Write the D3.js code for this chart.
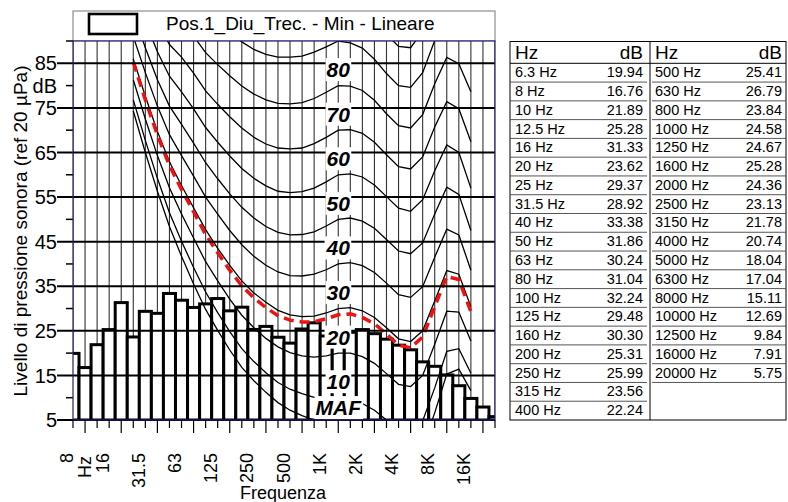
<!DOCTYPE html>
<html>
<head>
<meta charset="utf-8">
<script src="https://cdn.jsdelivr.net/npm/d3@7"></script>
<style>
  body { margin: 0; background: #fff; }
  svg { display: block; }
  text { font-family: "Liberation Sans", Arial, sans-serif; fill: #000; }
</style>
</head>
<body>
<svg id="chart" width="788" height="502"></svg>
<script>
// Third-octave bands (Hz) and measured minimum levels (dB)
const bands = ["6.3","8","10","12.5","16","20","25","31.5","40","50","63","80","100","125","160","200","250","315","400","500","630","800","1000","1250","1600","2000","2500","3150","4000","5000","6300","8000","10000","12500","16000","20000"];
const levels = [19.94,16.76,21.89,25.28,31.33,23.62,29.37,28.92,33.38,31.86,30.24,31.04,32.24,29.48,30.30,25.31,25.99,23.56,22.24,25.41,26.79,23.84,24.58,24.67,25.28,24.36,23.13,21.78,20.74,18.04,17.04,15.11,12.69,9.84,7.91,5.75];

// Equal-loudness contours, 20 Hz .. 12.5 kHz (dB)
const contourBands = ["20","25","31.5","40","50","63","80","100","125","160","200","250","315","400","500","630","800","1000","1250","1600","2000","2500","3150","4000","5000","6300","8000","10000","12500"];
const phonMAF = [74.3,65.0,56.3,48.4,41.7,35.5,29.8,25.1,20.7,16.8,13.8,11.2,8.9,7.2,6.0,5.0,4.4,4.2,3.8,2.6,1.0,-1.2,-3.6,-3.9,-1.1,6.6,15.3,16.4,11.6];
const phon10 = [76.8,67.7,59.2,51.5,45.1,39.2,33.7,29.1,24.8,21.0,18.1,15.6,13.4,11.9,10.9,10.1,9.9,10.0,9.8,8.7,7.2,5.0,2.6,2.2,4.8,12.2,20.4,21.0,15.5];
const phon20 = [81.3,72.5,64.3,57.1,51.2,45.8,40.5,36.2,32.1,28.5,25.7,23.3,21.4,20.1,19.4,19.1,19.4,20.0,20.0,19.2,17.7,15.4,13.0,12.5,15.0,22.0,29.4,29.2,22.7];
const phon30 = [86.0,77.6,69.7,62.9,57.6,52.6,47.7,43.5,39.7,36.2,33.5,31.4,29.6,28.6,28.2,28.3,29.0,30.0,30.2,29.5,28.0,25.7,23.2,22.6,25.0,31.7,38.5,37.7,30.4];
const phon40 = [91.0,82.9,75.4,69.0,64.3,59.7,55.0,51.2,47.5,44.3,41.7,39.7,38.2,37.4,37.3,37.7,38.7,40.0,40.3,39.6,38.1,35.7,33.1,32.5,34.9,41.5,47.8,46.5,38.6];
const phon50 = [96.2,88.5,81.3,75.4,71.3,67.1,62.7,59.1,55.7,52.7,50.3,48.4,47.1,46.5,46.6,47.2,48.5,50.0,50.3,49.6,48.0,45.5,42.9,42.3,44.7,51.2,57.2,55.6,47.5];
const phon60 = [101.7,94.4,87.6,82.1,78.6,74.8,70.6,67.3,64.2,61.4,59.2,57.5,56.3,56.0,56.2,57.0,58.4,60.0,60.2,59.5,57.7,55.1,52.5,51.8,54.4,60.9,66.7,65.0,57.0];
const phon70 = [107.6,100.7,94.3,89.2,86.4,82.8,78.8,75.8,73.0,70.5,68.4,66.9,66.0,65.8,66.0,67.0,68.4,70.0,70.1,69.3,67.3,64.5,61.8,61.3,64.0,70.7,76.4,74.8,67.4];
const phon80 = [113.7,107.3,101.3,96.6,94.6,91.1,87.4,84.7,82.2,79.9,78.1,76.8,76.0,75.9,76.2,77.1,78.5,80.0,79.9,78.9,76.7,73.7,71.0,70.5,73.5,80.4,86.3,84.9,78.6];
const phon90 = [120.3,114.4,108.7,104.4,103.2,99.8,96.3,94.0,91.8,89.8,88.1,87.0,86.4,86.4,86.6,87.5,88.7,90.0,89.6,88.4,85.9,82.7,80.0,79.6,82.9,90.1,96.3,95.5,90.9];
const phon100 = [127.2,121.9,116.6,112.6,112.3,108.9,105.6,103.6,101.8,100.1,98.7,97.8,97.2,97.3,97.4,98.1,99.0,100.0,99.2,97.7,94.9,91.5,88.8,88.5,92.2,99.9,106.6,106.5,104.3];
const loudnessContour = [85.3,76.8,68.9,62.1,56.7,51.7,46.6,42.5,38.6,35.1,32.4,30.2,28.4,27.4,27.0,27.0,27.7,28.6,28.8,28.0,26.6,24.3,21.8,21.2,23.6,30.4,37.2,36.5,29.3];

const contours = [
  { label: "MAF", values: phonMAF },
  { label: "10", values: phon10 },
  { label: "20", values: phon20 },
  { label: "30", values: phon30 },
  { label: "40", values: phon40 },
  { label: "50", values: phon50 },
  { label: "60", values: phon60 },
  { label: "70", values: phon70 },
  { label: "80", values: phon80 },
  { label: null, values: phon90 },
  { label: null, values: phon100 }
];

// Axis ticks
const xTickBands = ["8","16","31.5","63","125","250","500","1000","2000","4000","8000","16000"];
const xTickText  = ["8","16","31.5","63","125","250","500","1K","2K","4K","8K","16K"];
const yMajor = [5,15,25,35,45,55,65,75,85];
const yMinor = [10,20,30,40,50,60,70,80,90];
const seriesName = "Pos.1_Diu_Trec. - Min - Lineare";

const svg = d3.select("#chart");
const P = { l: 73, r: 495, t: 41, b: 420 };
const navy = "#1e1e78";

const x = d3.scalePoint().domain(bands).range([P.l, P.r]);
const step = x.step();
const y = d3.scaleLinear().domain([5, 90]).range([P.b, P.t]);

svg.append("defs").append("clipPath").attr("id", "plotClip")
  .append("rect").attr("x", P.l).attr("y", P.t).attr("width", P.r - P.l).attr("height", P.b - P.t);

// Legend
const leg = svg.append("g");
leg.append("rect").attr("x", P.l).attr("y", 11).attr("width", P.r - P.l).attr("height", P.t - 11)
  .attr("fill", "#fff").attr("stroke", "#777").attr("stroke-width", 1);
leg.append("rect").attr("x", 89).attr("y", 14).attr("width", 48).attr("height", 20)
  .attr("fill", "#fff").attr("stroke", "#000").attr("stroke-width", 2.6);
leg.append("text").attr("x", 166).attr("y", 29.5).attr("font-size", 19).text(seriesName);

// Plot background
svg.append("rect").attr("x", P.l).attr("y", P.t).attr("width", P.r - P.l).attr("height", P.b - P.t).attr("fill", "#fff");

const plot = svg.append("g").attr("clip-path", "url(#plotClip)");

// Vertical grid at band centres
plot.selectAll("line.vg").data(bands).join("line")
  .attr("x1", d => x(d)).attr("x2", d => x(d)).attr("y1", P.t).attr("y2", P.b)
  .attr("stroke", "#333").attr("stroke-width", 1.1);

// Horizontal grid + major ticks
svg.selectAll("line.hg").data(yMajor).join("line")
  .attr("x1", 57).attr("x2", P.r).attr("y1", d => y(d)).attr("y2", d => y(d))
  .attr("stroke", "#000").attr("stroke-width", 2);
svg.selectAll("line.mt").data(yMinor).join("line")
  .attr("x1", 66).attr("x2", P.l).attr("y1", d => y(d)).attr("y2", d => y(d))
  .attr("stroke", "#000").attr("stroke-width", 1.5);

// Bars
plot.selectAll("rect.bar").data(bands).join("rect")
  .attr("x", d => x(d) - step / 2).attr("width", step)
  .attr("y", (d, i) => y(levels[i])).attr("height", (d, i) => y(5) - y(levels[i]))
  .attr("fill", "#fff").attr("stroke", "#000").attr("stroke-width", 3);

// Equal-loudness contours
const line = d3.line().x((v, i) => x(contourBands[i])).y(v => y(v));
plot.selectAll("path.contour").data(contours).join("path")
  .attr("d", c => line(c.values)).attr("fill", "none")
  .attr("stroke", "#000").attr("stroke-width", 1.3);

plot.append("path").attr("d", line(loudnessContour)).attr("fill", "none")
  .attr("stroke", "#ee1111").attr("stroke-width", 3.5).attr("stroke-dasharray", "10,6");

// Plot frame
svg.append("rect").attr("x", P.l).attr("y", P.t).attr("width", P.r - P.l).attr("height", P.b - P.t)
  .attr("fill", "none").attr("stroke", navy).attr("stroke-width", 1.2);

// Contour labels on white boxes at 1 kHz
const i1k = contourBands.indexOf("1000");
const labG = svg.append("g").attr("clip-path", "url(#plotClip)");
contours.filter(c => c.label).forEach(c => {
  const g = labG.append("g");
  const t = g.append("text").attr("x", x("1000")).attr("y", y(c.values[i1k] + 3.6))
    .attr("dy", "0.36em").attr("text-anchor", "middle")
    .attr("font-size", 21).attr("font-weight", "bold").attr("font-style", "italic").text(c.label);
  const bb = t.node().getBBox();
  g.insert("rect", "text").attr("x", bb.x - 1).attr("y", bb.y).attr("width", bb.width + 2).attr("height", bb.height)
    .attr("fill", "#fff");
});

// Y axis labels
svg.selectAll("text.yl").data(yMajor).join("text")
  .attr("x", 57).attr("y", d => y(d)).attr("dy", "0.36em").attr("text-anchor", "end")
  .attr("font-size", 20).text(d => d);
svg.append("text").attr("x", 57).attr("y", y(80)).attr("dy", "0.36em").attr("text-anchor", "end")
  .attr("font-size", 20).text("dB");
svg.append("text").attr("transform", "translate(27,231) rotate(-90)").attr("text-anchor", "middle")
  .attr("font-size", 19).text("Livello di pressione sonora (ref 20 µPa)");

// X axis ticks and labels
svg.selectAll("line.xt").data(bands).join("line")
  .attr("x1", d => x(d)).attr("x2", d => x(d)).attr("y1", P.b).attr("y2", d => xTickBands.includes(d) ? 433 : 428)
  .attr("stroke", "#000").attr("stroke-width", 1.2);
svg.selectAll("text.xl").data(xTickBands).join("text")
  .attr("transform", d => `translate(${x(d) - 19},453) rotate(-90)`)
  .attr("dy", "0.36em").attr("text-anchor", "end").attr("font-size", 18)
  .text((d, i) => xTickText[i]);
svg.append("text").attr("transform", `translate(${(x("8") + x("16")) / 2 - 19},456) rotate(-90)`)
  .attr("dy", "0.36em").attr("text-anchor", "end").attr("font-size", 18).text("Hz");
svg.append("text").attr("x", 283).attr("y", 499).attr("text-anchor", "middle").attr("font-size", 18).text("Frequenza");

// Level table
const T = { l: 510, r: 786, t: 41.5, b: 420, mid: 650, head: 63.3 };
const nRows = 19;
const rowH = (T.b - T.head) / nRows;
const tab = svg.append("g");
const colA = bands.slice(0, nRows).map((b, i) => ({ b, v: levels[i] }));
const colB = bands.slice(nRows).map((b, i) => ({ b, v: levels[i + nRows] }));
const fmt = d3.format(".2f");

tab.append("rect").attr("x", T.l).attr("y", T.t).attr("width", T.r - T.l).attr("height", T.b - T.t)
  .attr("fill", "none").attr("stroke", "#000").attr("stroke-width", 1);
tab.append("line").attr("x1", T.mid).attr("x2", T.mid).attr("y1", T.t).attr("y2", T.b)
  .attr("stroke", "#000").attr("stroke-width", 1);
tab.append("line").attr("x1", T.l).attr("x2", T.r).attr("y1", T.head).attr("y2", T.head)
  .attr("stroke", "#000").attr("stroke-width", 1);

[["Hz", T.l + 5, "start"], ["dB", T.mid - 7, "end"], ["Hz", T.mid + 5, "start"], ["dB", T.r - 4, "end"]]
  .forEach(([s, px, a]) => tab.append("text").attr("x", px).attr("y", 59).attr("text-anchor", a)
    .attr("font-size", 19).text(s));

function column(rows, x0, x1, lineL, lineR) {
  rows.forEach((r, i) => {
    const top = T.head + i * rowH;
    tab.append("text").attr("x", x0).attr("y", top + 14).attr("font-size", 14.5).text(r.b + " Hz");
    tab.append("text").attr("x", x1).attr("y", top + 14).attr("text-anchor", "end").attr("font-size", 14.5).text(fmt(r.v));
    if (i < nRows - 1) {
      tab.append("line").attr("x1", lineL).attr("x2", lineR).attr("y1", top + rowH).attr("y2", top + rowH)
        .attr("stroke", "#555").attr("stroke-width", 1);
    }
  });
}
column(colA, T.l + 5, T.mid - 7, T.l, T.mid - 3);
column(colB, T.mid + 5, T.r - 4, T.mid + 2, T.r);
</script>
</body>
</html>
